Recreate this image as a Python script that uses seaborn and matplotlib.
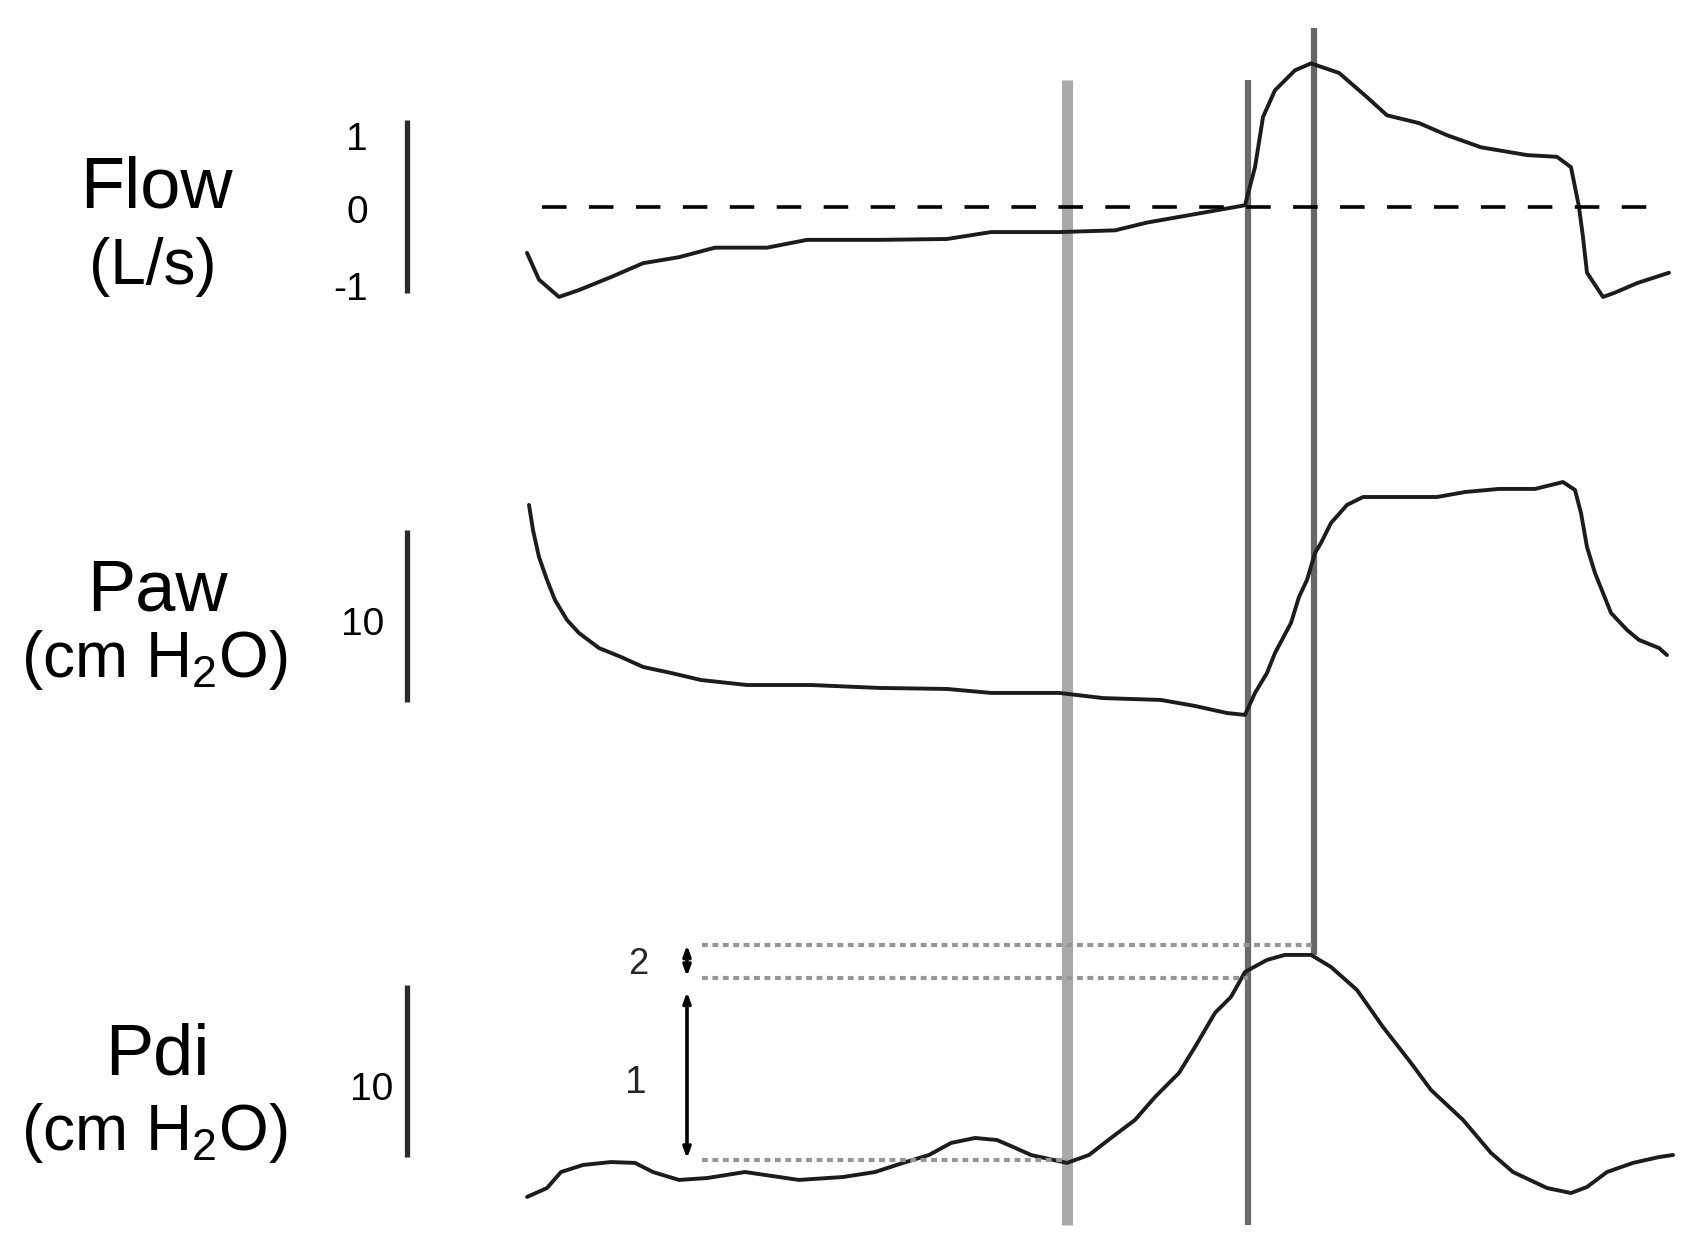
import matplotlib
matplotlib.use("Agg")
import matplotlib.pyplot as plt
import seaborn as sns

# traces (time in s, flow in L/s, pressures in cm H2O)
flow_t = [0.0, 0.03, 0.08, 0.13, 0.21, 0.29, 0.38, 0.47, 0.60, 0.70, 0.88, 1.05, 1.16, 1.33,
          1.47, 1.55, 1.685, 1.795, 1.82, 1.84, 1.87, 1.92, 1.96, 2.03, 2.10, 2.15, 2.23,
          2.30, 2.385, 2.50, 2.575, 2.61, 2.62, 2.63, 2.64, 2.65, 2.69, 2.72, 2.775, 2.855]
flow_v = [-0.53, -0.84, -1.04, -0.96, -0.81, -0.65, -0.58, -0.47, -0.47, -0.38, -0.38, -0.37,
          -0.29, -0.29, -0.27, -0.18, -0.07, 0.02, 0.46, 1.04, 1.35, 1.58, 1.66, 1.55, 1.27,
          1.06, 0.97, 0.83, 0.69, 0.60, 0.58, 0.46, 0.23, 0.0, -0.35, -0.76, -1.04, -0.99,
          -0.88, -0.76]

paw_t = [0.005, 0.015, 0.03, 0.05, 0.07, 0.10, 0.13, 0.18, 0.235, 0.29, 0.36, 0.435, 0.55,
         0.71, 0.88, 1.05, 1.16, 1.33, 1.44, 1.585, 1.67, 1.75, 1.795, 1.82, 1.85, 1.87,
         1.91, 1.93, 1.95, 1.97, 1.985, 2.01, 2.05, 2.09, 2.17, 2.275, 2.345, 2.43, 2.52,
         2.59, 2.62, 2.635, 2.65, 2.67, 2.69, 2.71, 2.75, 2.78, 2.83, 2.85]
paw_v = [14.83, 13.37, 11.80, 10.47, 9.30, 8.14, 7.38, 6.51, 5.99, 5.41, 5.06, 4.65, 4.36,
         4.36, 4.19, 4.13, 3.90, 3.90, 3.60, 3.49, 3.14, 2.73, 2.62, 3.90, 5.06, 6.22, 7.97,
         9.48, 10.47, 12.03, 12.62, 13.78, 14.83, 15.29, 15.29, 15.29, 15.58, 15.76, 15.76,
         16.16, 15.70, 14.36, 12.38, 10.87, 9.71, 8.55, 7.56, 6.98, 6.51, 6.10]

pdi_t = [0.0, 0.05, 0.085, 0.14, 0.21, 0.27, 0.315, 0.38, 0.45, 0.545, 0.68, 0.79, 0.87,
         0.94, 1.005, 1.06, 1.12, 1.175, 1.215, 1.26, 1.35, 1.405, 1.46, 1.52, 1.57, 1.63,
         1.67, 1.72, 1.76, 1.795, 1.85, 1.895, 1.96, 2.01, 2.075, 2.14, 2.21, 2.26, 2.34,
         2.41, 2.465, 2.55, 2.61, 2.65, 2.70, 2.765, 2.83, 2.865]
pdi_v = [1.92, 2.44, 3.37, 3.78, 3.95, 3.90, 3.37, 2.91, 3.02, 3.37, 2.91, 3.08, 3.37, 3.90,
         4.36, 5.06, 5.35, 5.23, 4.83, 4.36, 3.90, 4.36, 5.35, 6.40, 7.73, 9.13, 10.64,
         12.62, 13.55, 15.0, 15.70, 15.99, 15.99, 15.29, 13.95, 11.80, 9.71, 8.14, 6.40,
         4.48, 3.37, 2.44, 2.15, 2.50, 3.37, 3.90, 4.24, 4.36]

# event markers and Pdi reference levels
event_t = [1.35, 1.8025, 1.9675]
pdi_levels = [4.07, 14.65, 16.57]
arrow_labels = ["1", "2"]

sns.set_theme(style="white")
plt.rcParams["font.family"] = ["Liberation Sans", "DejaVu Sans"]
plt.rcParams["mathtext.default"] = "regular"

W, H = 1699, 1255
XLIM = (-527 / 400, (W - 527) / 400)
fig = plt.figure(figsize=(W / 100, H / 100), dpi=100)


def panel(top, bottom, ylim):
    ax = fig.add_axes([0, 1 - bottom / H, 1, (bottom - top) / H])
    ax.patch.set_alpha(0)
    return ax, ylim


# background axes for the event lines that cross all panels
bg = fig.add_axes([0, 0, 1, 1])
bg.set_xlim(XLIM)
bg.set_ylim(H, 0)
bg.set_axis_off()
bg.vlines(event_t[0], 80, 1225, color="#a9a9a9", lw=8)
bg.vlines(event_t[1], 80, 1225, color="#6b6b6b", lw=4.5)
bg.vlines(event_t[2], 28, 955, color="#666666", lw=4.5)

ax_flow, lim_flow = panel(0, 380, (-2.0, 2.393))
ax_paw, lim_paw = panel(400, 800, (-2.326, 20.93))
ax_pdi, lim_pdi = panel(840, 1255, (-1.453, 22.67))

trace_kw = dict(color="#1c1c1c", lw=2.8, estimator=None, sort=False, legend=False)
sns.lineplot(x=flow_t, y=flow_v, ax=ax_flow, **trace_kw)
sns.lineplot(x=paw_t, y=paw_v, ax=ax_paw, **trace_kw)
sns.lineplot(x=pdi_t, y=pdi_v, ax=ax_pdi, **trace_kw)

for ax, lim in [(ax_flow, lim_flow), (ax_paw, lim_paw), (ax_pdi, lim_pdi)]:
    ax.set_xlim(XLIM)
    ax.set_ylim(lim)
    ax.set_axis_off()

# zero flow line
ax_flow.hlines(0, 0.0375, 2.8125, color="black", lw=2.6, linestyles=(0, (6.8, 6.2)))

# scale bars
bar_x = -0.30
bar_kw = dict(color="#2b2b2b", lw=3.8)
ax_flow.vlines(bar_x, -1, 1, **bar_kw)
ax_paw.vlines(bar_x, 3.4, 13.4, **bar_kw)
ax_pdi.vlines(bar_x, 4.25, 14.25, **bar_kw)

num_kw = dict(fontsize=28, ha="right", va="baseline", color="black")
ax_flow.text(-0.3975, 0.66, "1", **num_kw)
ax_flow.text(-0.3975, -0.185, "0", **num_kw)
ax_flow.text(-0.3975, -1.075, "-1", **num_kw)
ax_paw.text(-0.3575, 7.27, "10", **num_kw)
ax_pdi.text(-0.335, 7.56, "10", **num_kw)

# panel names
name_kw = dict(fontsize=52, ha="center", va="baseline", color="black")
unit_kw = dict(fontsize=46, ha="center", va="baseline", color="black")
ax_flow.text(-0.9275, -0.01, "Flow", **name_kw)
ax_flow.text(-0.935, -0.89, "(L/s)", **unit_kw)
ax_paw.text(-0.925, 8.72, "Paw", **name_kw)
ax_paw.text(-0.9325, 4.83, r"(cm H$_2$O)", **unit_kw)
ax_pdi.text(-0.925, 9.01, "Pdi", **name_kw)
ax_pdi.text(-0.9325, 4.65, r"(cm H$_2$O)", **unit_kw)

# Pdi reference levels up to each event
dot_kw = dict(color="#969696", lw=3, linestyles=(0, (1.4, 1.1)))
for lev, t_end in zip(pdi_levels, event_t):
    ax_pdi.hlines(lev, 0.4375, t_end, **dot_kw)

# arrows between levels
arr_x = 0.40
for i, lab in enumerate(arrow_labels):
    lo, hi = pdi_levels[i], pdi_levels[i + 1]
    ax_pdi.annotate("", xy=(arr_x, hi), xytext=(arr_x, lo),
                    arrowprops=dict(arrowstyle="<->,head_length=0.5,head_width=0.18",
                                    color="black", lw=2.6,
                                    shrinkA=1, shrinkB=10 if i == 0 else 0))
ax_pdi.text(0.2725, 7.97, arrow_labels[0], fontsize=28, ha="center", va="baseline")
ax_pdi.text(0.2775, 14.88, arrow_labels[1], fontsize=26, ha="center", va="baseline")

fig.savefig("out.png", dpi=100)
